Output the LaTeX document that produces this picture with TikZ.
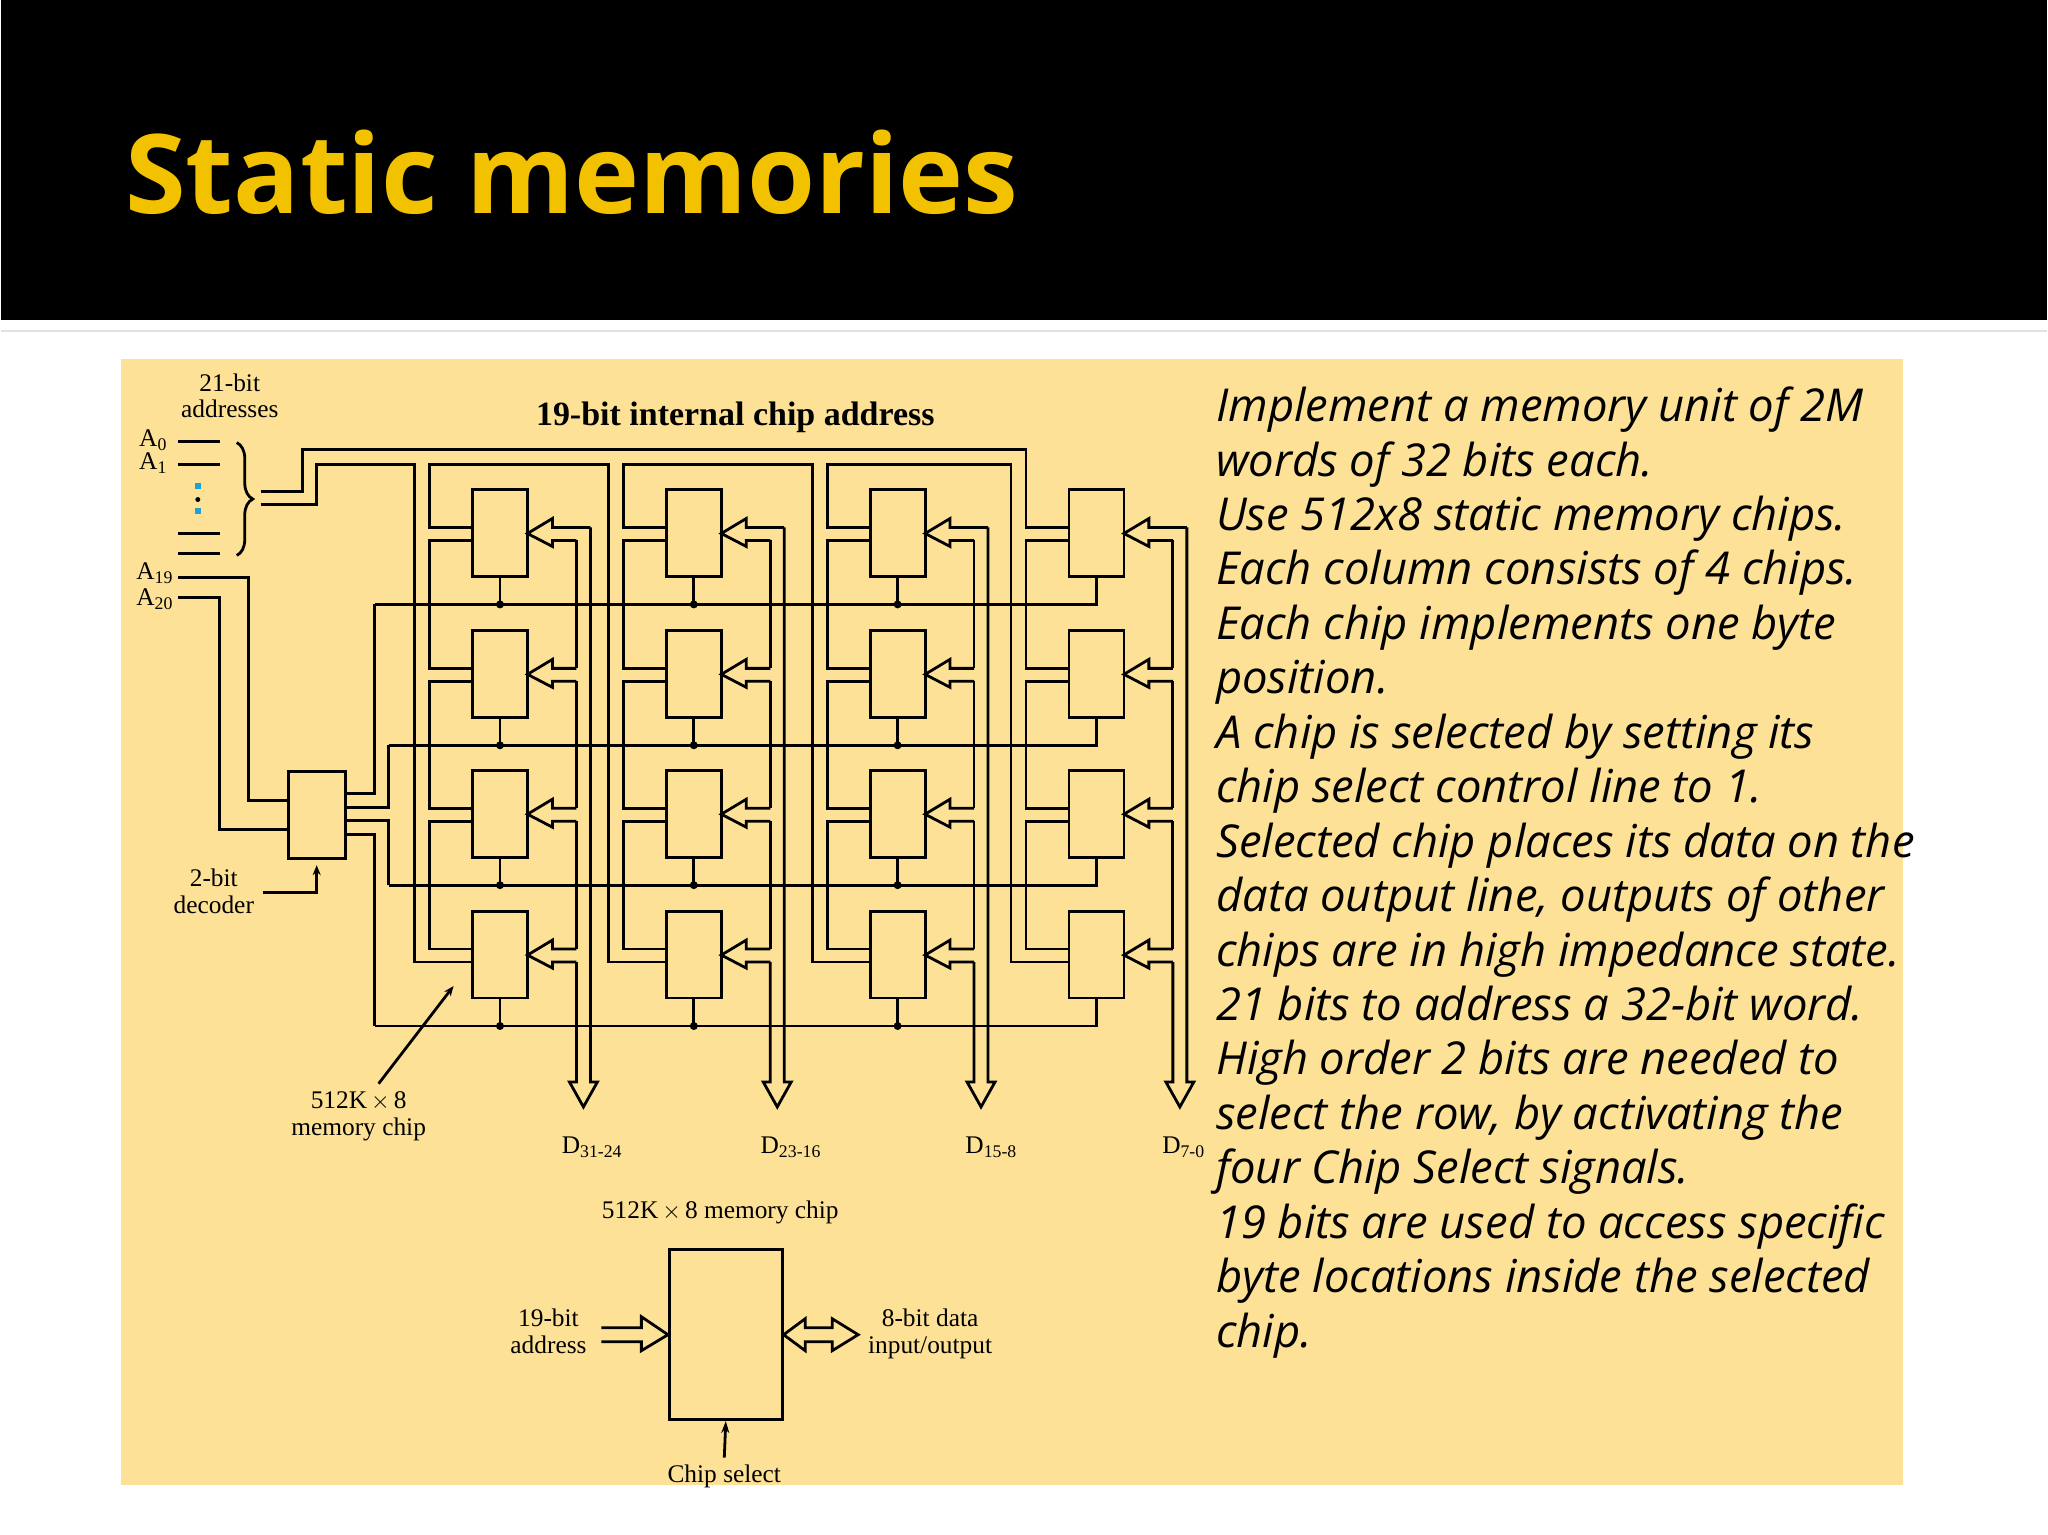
\documentclass[tikz,border=0pt]{standalone}
\usepackage{fontspec}
\setmainfont{Liberation Serif}
\newfontfamily\osans{Open Sans}
\usetikzlibrary{arrows.meta,decorations.pathreplacing}
\definecolor{panel}{HTML}{FDE197}
\definecolor{titley}{HTML}{F2C200}
\begin{document}
\begin{tikzpicture}[x=0.5pt,y=-0.5pt,
  wire/.style={line width=1.4pt,line join=miter},
  lbl/.style={font=\fontsize{12.7}{13}\selectfont,inner sep=0pt},
  body/.style={font=\osans\itshape\fontsize{22.7}{23}\selectfont,anchor=base west,inner sep=0pt},
  jdot/.style={circle,fill=black,inner sep=0pt,minimum size=4pt}]
\fill[black] (0,0) rectangle (2048,320);
\fill[white] (0,320) rectangle (2048,1536);
\draw[black!12,line width=1pt] (0,331)--(2048,331);
\fill[panel] (120,359) rectangle (1904,1486);
\useasboundingbox (0,0) rectangle (2048,1536);
\node[anchor=base west,text=titley,inner sep=0pt] (title) at (124,214)
  {\resizebox{447pt}{!}{\osans\bfseries Static memories}};
% chips and data arrows
\foreach \X in {472,666,870,1069}{
  \pgfmathsetmacro\R{\X+55}\pgfmathsetmacro\Xi{\R+49}\pgfmathsetmacro\Xo{\R+63}
  \pgfmathsetmacro\Mid{\R+56}\pgfmathsetmacro\H{\R+25}\pgfmathsetmacro\L{\X-43}
  \foreach \T [count=\r] in {490,631,771,912}{
    \draw[wire] (\X,\T) rectangle ++(55,87);
    \pgfmathsetmacro\Xa{\r==1 ? \Xo : \Xi}
    \draw[wire] (\Xa,\T+38) -- (\H,\T+38) -- (\H,\T+29) -- (\R,\T+44) -- (\H,\T+57) -- (\H,\T+51) -- (\Xi,\T+51);
  }
  \draw[wire] (\Xi,541)--(\Xi,669) (\Xi,682)--(\Xi,809) (\Xi,822)--(\Xi,950);
  \draw[wire] (\Xi,963)--(\Xi,1083)--(\Xi-7,1083)--(\Mid,1108)--(\Xo+7,1083)--(\Xo,1083)--(\Xo,528);
  % address chain
  \draw[wire] (\X,541)-|(\L,669)--(\X,669) (\X,682)-|(\L,809)--(\X,809) (\X,822)-|(\L,950)--(\X,950);
}
% address bus between columns
\draw[wire] (260,505)--(316,505)--(316,465)--(414,465)--(414,963)--(472,963);
\draw[wire] (472,528)--(429,528)--(429,465)--(608,465)--(608,963)--(666,963);
\draw[wire] (666,528)--(623,528)--(623,465)--(812,465)--(812,963)--(870,963);
\draw[wire] (870,528)--(827,528)--(827,465)--(1011,465)--(1011,963)--(1069,963);
\draw[wire] (1069,528)--(1026,528)--(1026,450)--(302,450)--(302,492)--(260,492);
% chip select rows
\foreach \T/\S/\D in {490/605/374,631/746/388,771/886/388,912/1027/374}{
  \draw[wire] (\D,\S)--(1096.5,\S)--(1096.5,\T+87);
  \foreach \X in {472,666,870}{
    \draw[wire] (\X+27.5,\T+87)--(\X+27.5,\S);
    \node[jdot] at (\X+27.5,\S) {};
  }
}
% decoder
\node[draw,line width=1.4pt,minimum width=28.5pt,minimum height=43.5pt,inner sep=0pt] (dec) at (316.5,815.5) {};
\draw[wire] (dec.east|-0,794)--(374,794)--(374,605);
\draw[wire] (dec.east|-0,808)--(388,808)--(388,746);
\draw[wire] (dec.east|-0,821)--(388,821)--(388,886);
\draw[wire] (dec.east|-0,835)--(374,835)--(374,1027);
\draw[wire] (177,578)--(248,578)--(248,801)--(dec.west|-0,801);
\draw[wire] (177,598)--(219,598)--(219,830)--(dec.west|-0,830);
% address inputs
\foreach \y in {442,465,534,554} \draw[wire] (177,\y)--(219,\y);
\foreach \y in {486,511} \fill[cyan!70!teal] (194,\y-3) rectangle ++(6,6);
\fill[black] (197,500) circle (2.5);
\draw[line width=1.4pt,decorate,decoration={brace,amplitude=8pt}] (236,443)--(236,556);
\node[lbl,anchor=base east] (a0) at (167,447) {A\textsubscript{0}};
\node[lbl,anchor=base east] (a1) at (167,470) {A\textsubscript{1}};
\node[lbl,anchor=base east] (a19) at (173,580) {A\textsubscript{19}};
\node[lbl,anchor=base east] (a20) at (173,606) {A\textsubscript{20}};
\node[lbl,anchor=base] (t1) at (229,392) {21-bit};
\node[lbl,anchor=base] (t2) at (229,418) {addresses};
\node[lbl,anchor=base,font=\bfseries\fontsize{17}{17}\selectfont] (t3) at (735,426) {19-bit internal chip address};
\node[lbl,anchor=base] (t4) at (213,887) {2-bit};
\node[lbl,anchor=base] (t5) at (213,914) {decoder};
\draw[wire,-{Stealth[length=5pt,width=4pt]}] (262,893)--(316,893)--(316,866);
\node[lbl,anchor=base] (t6) at (358,1110) {512K$\,\times\,$8};
\node[lbl,anchor=base] (t7) at (358,1137) {memory chip};
\draw[line width=1.4pt,-{Stealth[length=5pt,width=4pt]}] (t6.north)++(20,-8)--(453,987);
\node[lbl,anchor=base west] (d1) at (561,1155) {D\textsubscript{31-24}};
\node[lbl,anchor=base west] (d2) at (760,1155) {D\textsubscript{23-16}};
\node[lbl,anchor=base west] (d3) at (965,1155) {D\textsubscript{15-8}};
\node[lbl,anchor=base west] (d4) at (1162,1155) {D\textsubscript{7-0}};
% small chip
\node[draw,line width=1.4pt,minimum width=56.5pt,minimum height=85pt,inner sep=0pt] (mc) at (725.5,1336) {};
\node[lbl,anchor=base] (t8) at (720,1220) {512K$\,\times\,$8 memory chip};
\draw[wire] (601,1329)--(641,1329)--(641,1318)--(mc.west|-0,1336)--(641,1352)--(641,1343)--(601,1343);
\draw[wire] (mc.east|-0,1336)--(805,1320)--(805,1329)--(832,1329)--(832,1320)--(858,1336)--(832,1352)--(832,1343)--(805,1343)--(805,1352)--cycle;
\node[lbl,anchor=base] (t9) at (548,1328) {19-bit};
\node[lbl,anchor=base] (t10) at (548,1355) {address};
\node[lbl,anchor=base] (t11) at (930,1328) {8-bit data};
\node[lbl,anchor=base] (t12) at (930,1355) {input/output};
\draw[wire,-{Stealth[length=6pt,width=4pt]}] (724,1459)--(mc.south);
\node[lbl,anchor=base] (t13) at (724,1484) {Chip select};
% body text
\foreach \s [count=\i from 0] in {Implement a memory unit of 2M,words of 32 bits each.,Use 512x8 static memory chips.,Each column consists of 4 chips.,Each chip implements one byte,position.,A chip is selected by setting its,chip select control line to 1.,Selected chip places its data on the,{data output line, outputs of other},chips are in high impedance state.,21 bits to address a 32-bit word.,High order 2 bits are needed to,{select the row, by activating the},four Chip Select signals.,19 bits are used to access specific,byte locations inside the selected,chip.}
  \node[body] (b\i) at (1216,422+54.5*\i) {\s};
\end{tikzpicture}
\end{document}
